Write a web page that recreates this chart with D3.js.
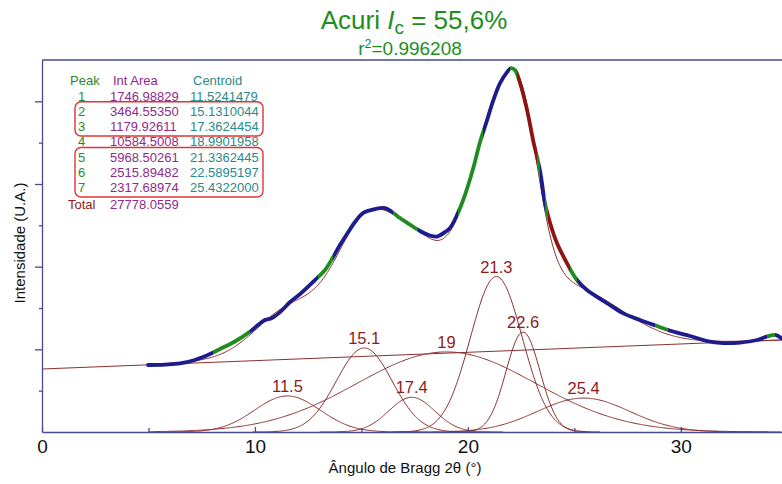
<!DOCTYPE html>
<html>
<head>
<meta charset="utf-8">
<script src="https://cdn.jsdelivr.net/npm/d3@7"></script>
<style>
  body { margin: 0; background: #fff; }
  svg { display: block; font-family: 'Liberation Sans', Arial, sans-serif; }
</style>
</head>
<body>
<div id="chart"></div>
<script>
// fit table (as printed in the chart)
const peakIds = ['1', '2', '3', '4', '5', '6', '7']
const intAreas = ['1746.98829', '3464.55350', '1179.92611', '10584.5008', '5968.50261', '2515.89482', '2317.68974']
const centroids = ['11.5241479', '15.1310044', '17.3624454', '18.9901958', '21.3362445', '22.5895197', '25.4322000']
const totalArea = '27778.0559'
const peakLabels = ['11.5', '15.1', '17.4', '19', '21.3', '22.6', '25.4']
// gaussian widths (sigma, degrees)
const peakWidths = [1.54, 1.31, 1.08, 4.2, 1.22, 0.8, 2.17]
// rows grouped by the red boxes (row indexes)
const boxedGroups = [[1, 2], [4, 6]]

// linear background
const baselineAngles = [0, 34.75]
const baselineValues = [791, 1155]

// measured diffractogram
const dataAngles = [4.98, 5.78, 6.48, 7.18, 7.89, 8.36, 9.06, 9.77, 10.14, 10.47, 10.80, 11.18, 11.65, 12.12,
  12.82, 13.29, 13.67, 13.99, 14.32, 14.70, 15.07, 15.64, 16.11, 16.44, 16.81, 17.28, 17.75, 18.22, 18.55,
  18.92, 19.16, 19.49, 19.86, 20.24, 20.57, 20.90, 21.18, 21.51, 21.84, 22.02, 22.21, 22.45, 22.78, 23.06,
  23.39, 23.62, 23.86, 24.18, 24.65, 25.12, 25.59, 26.53, 27.28, 28.08, 28.88, 29.63, 30.43, 31.23, 31.98,
  32.78, 33.58, 34.19, 34.47, 34.75]
const dataValues = [841, 847, 860, 904, 979, 1042, 1136, 1261, 1343, 1406, 1431, 1506, 1632, 1732,
  1908, 2033, 2196, 2347, 2485, 2636, 2748, 2799, 2811, 2761, 2686, 2604, 2523, 2466, 2454,
  2510, 2560, 2723, 2974, 3301, 3640, 3916, 4154, 4380, 4518, 4568, 4543, 4380, 4041, 3665,
  3276, 2874, 2623, 2372, 2121, 1908, 1782, 1619, 1493, 1406, 1330, 1261, 1205, 1142, 1117,
  1123, 1155, 1211, 1217, 1173]

// colour bands along the measured trace
const segmentBreaks = [4.98, 8.03, 9.77, 12.96, 13.67, 16.48, 17.66, 19.54, 20.71, 21.98, 22.31, 23.25,
  23.39, 23.62, 23.76, 24.79, 25.12, 28.79, 29.40, 34.05, 34.42, 34.75]
const segmentColors = ['blue', 'green', 'blue', 'green', 'blue', 'green', 'blue', 'green', 'blue', 'green',
  'red', 'green', 'blue', 'green', 'red', 'green', 'blue', 'green', 'blue', 'green', 'blue']

const xTicks = [0, 10, 20, 30]
const xMinorTicks = [5, 15, 25]
const yMax = 4670

const colors = { blue: '#1c1c8c', green: '#1f8c1f', red: '#8e1414' }
const fitColor = '#8b3030'
const axisColor = '#4a4a8e'

const margin = { top: 60, left: 42, right: 0, bottom: 52 }
const width = 782 - margin.left - margin.right
const height = 484 - margin.top - margin.bottom

const svg = d3
  .select('#chart')
  .append('svg')
  .attr('width', 782)
  .attr('height', 484)

const plot = svg
  .append('g')
  .attr('transform', 'translate(' + margin.left + ',' + margin.top + ')')

const x = d3.scaleLinear().domain([0, 34.75]).range([0, width])
const y = d3.scaleLinear().domain([0, yMax]).range([height, 0])

svg
  .append('defs')
  .append('clipPath')
  .attr('id', 'plot-clip')
  .append('rect')
  .attr('x', 0)
  .attr('y', -10)
  .attr('width', width)
  .attr('height', height + 10)

const peaks = peakIds.map((id, i) => {
  const area = +intAreas[i]
  const sigma = peakWidths[i]
  return {
    center: +centroids[i],
    sigma: sigma,
    amp: area / (sigma * Math.sqrt(2 * Math.PI)),
    label: peakLabels[i]
  }
})

const gauss = (p, v) => p.amp * Math.exp(-((v - p.center) ** 2) / (2 * p.sigma ** 2))
const background = d3.scaleLinear().domain(baselineAngles).range(baselineValues)

const line = d3
  .line()
  .x(d => x(d[0]))
  .y(d => y(d[1]))

const layer = plot.append('g').attr('clip-path', 'url(#plot-clip)')

// background line
layer
  .append('path')
  .datum(baselineAngles.map((a, i) => [a, baselineValues[i]]))
  .attr('d', line)
  .attr('fill', 'none')
  .attr('stroke', fitColor)
  .attr('stroke-width', 1)

// fitted components
peaks.forEach(p => {
  const lo = Math.max(5, p.center - 4 * p.sigma)
  const hi = Math.min(34.75, p.center + 4 * p.sigma)
  const pts = d3.range(lo, hi, 0.05).map(v => [v, gauss(p, v)])
  layer
    .append('path')
    .datum(pts)
    .attr('d', line)
    .attr('fill', 'none')
    .attr('stroke', fitColor)
    .attr('stroke-width', 1)
})

// sum of the fit
const fitPts = d3.range(5, 34.76, 0.05).map(v => [v, background(v) + d3.sum(peaks, p => gauss(p, v))])
layer
  .append('path')
  .datum(fitPts)
  .attr('d', line)
  .attr('fill', 'none')
  .attr('stroke', fitColor)
  .attr('stroke-width', 1)

// measured trace, coloured by band
const dataLine = d3
  .line()
  .curve(d3.curveCatmullRom)
  .x(d => x(d[0]))
  .y(d => y(d[1]))
const dataPts = dataAngles.map((a, i) => [a, dataValues[i]])

const defs = svg.select('defs')
segmentColors.forEach((c, i) => {
  const x0 = x(segmentBreaks[i]) - (i === 0 ? 4 : 0)
  const x1 = x(segmentBreaks[i + 1]) + (i === segmentColors.length - 1 ? 4 : 0)
  defs
    .append('clipPath')
    .attr('id', 'seg-' + i)
    .append('rect')
    .attr('x', x0)
    .attr('y', -20)
    .attr('width', x1 - x0)
    .attr('height', height + 40)
  layer
    .append('path')
    .datum(dataPts)
    .attr('d', dataLine)
    .attr('clip-path', 'url(#seg-' + i + ')')
    .attr('fill', 'none')
    .attr('stroke', colors[c])
    .attr('stroke-width', 3.8)
    .attr('stroke-linejoin', 'round')
    .attr('stroke-linecap', 'round')
})

// peak labels
plot
  .selectAll('.peak-label')
  .data(peaks)
  .enter()
  .append('text')
  .attr('class', 'peak-label')
  .attr('x', d => x(d.center))
  .attr('y', d => y(d.amp) - 4)
  .attr('text-anchor', 'middle')
  .attr('font-size', 16.5)
  .attr('fill', '#8b1c1c')
  .text(d => d.label)

// axes
const xAxis = plot
  .append('g')
  .attr('transform', 'translate(0,' + height + ')')
  .call(
    d3.axisBottom(x)
      .tickValues(xTicks)
      .tickSizeInner(-5)
      .tickSizeOuter(0)
      .tickPadding(8)
      .tickFormat(d3.format('d'))
  )
xAxis.selectAll('text').attr('font-size', 19).attr('fill', '#111').attr('font-family', null)
xAxis.selectAll('line, path').attr('stroke', axisColor).attr('stroke-width', 1.3)

const xMinor = plot
  .append('g')
  .attr('transform', 'translate(0,' + height + ')')
  .call(d3.axisBottom(x).tickValues(xMinorTicks).tickSize(-4).tickFormat(''))
xMinor.select('.domain').remove()
xMinor.selectAll('line').attr('stroke', axisColor).attr('stroke-width', 1.3)

const yTicks = d3.range(1, 9).map(i => (i * yMax) / 9)
const yAxis = plot
  .append('g')
  .call(d3.axisLeft(y).tickValues(yTicks).tickSizeOuter(0).tickFormat(''))
yAxis.selectAll('.tick line').attr('x2', (d, i) => (i % 2 === 1 ? -7 : -3))
yAxis.selectAll('line, path').attr('stroke', axisColor).attr('stroke-width', 1.3)

// top frame
plot
  .append('line')
  .attr('x1', 0)
  .attr('x2', width)
  .attr('y1', 0)
  .attr('y2', 0)
  .attr('stroke', axisColor)
  .attr('stroke-width', 1.3)

// axis titles
svg
  .append('text')
  .attr('x', 405)
  .attr('y', 473)
  .attr('text-anchor', 'middle')
  .attr('font-size', 15)
  .attr('fill', '#111')
  .text('Ângulo de Bragg 2θ (°)')

svg
  .append('text')
  .attr('transform', 'translate(25,243) rotate(-90)')
  .attr('text-anchor', 'middle')
  .attr('font-size', 15)
  .attr('fill', '#111')
  .text('Intensidade (U.A.)')

// title
const title = svg
  .append('text')
  .attr('x', 414)
  .attr('y', 29)
  .attr('text-anchor', 'middle')
  .attr('font-size', 26)
  .attr('fill', '#1e8e1e')
title.append('tspan').text('Acuri ')
title.append('tspan').attr('font-style', 'italic').text('I')
title.append('tspan').attr('font-size', 19).attr('dy', 5).text('c')
title.append('tspan').attr('dy', -5).text(' = 55,6%')

const sub = svg
  .append('text')
  .attr('x', 410)
  .attr('y', 55)
  .attr('text-anchor', 'middle')
  .attr('font-size', 19)
  .attr('fill', '#1e8e1e')
sub.append('tspan').text('r')
sub.append('tspan').attr('font-size', 12.5).attr('dy', -7).text('2')
sub.append('tspan').attr('dy', 7).text('=0.996208')

// fit table
const rowY = i => 96 + i * 15.25
const table = svg.append('g').attr('font-size', 13)

table.append('text').attr('x', 70).attr('y', 85).attr('fill', '#2a8a2a').text('Peak')
table.append('text').attr('x', 113).attr('y', 85).attr('fill', '#8e2a8e').text('Int Area')
table.append('text').attr('x', 193).attr('y', 85).attr('fill', '#2a8a8a').text('Centroid')

peakIds.forEach((id, i) => {
  const yy = rowY(i) + 4.5
  table.append('text').attr('x', 81.5).attr('y', yy).attr('text-anchor', 'middle').attr('fill', '#2a8a2a').text(id)
  table.append('text').attr('x', 110).attr('y', yy).attr('fill', '#8e2a8e').text(intAreas[i])
  table.append('text').attr('x', 190).attr('y', yy).attr('fill', '#2a8a8a').text(centroids[i])
})
table.append('text').attr('x', 68).attr('y', rowY(7) + 2 + 4.5).attr('fill', '#8b2020').text('Total')
table.append('text').attr('x', 110).attr('y', rowY(7) + 2 + 4.5).attr('fill', '#8e2a8e').text(totalArea)

boxedGroups.forEach(g => {
  const top = rowY(g[0]) - 9.5
  const bottom = rowY(g[1]) + 9.5
  table
    .append('rect')
    .attr('x', 75)
    .attr('y', top)
    .attr('width', 188)
    .attr('height', bottom - top)
    .attr('rx', 6)
    .attr('fill', 'none')
    .attr('stroke', '#e03535')
    .attr('stroke-width', 1.4)
})
</script>
</body>
</html>
